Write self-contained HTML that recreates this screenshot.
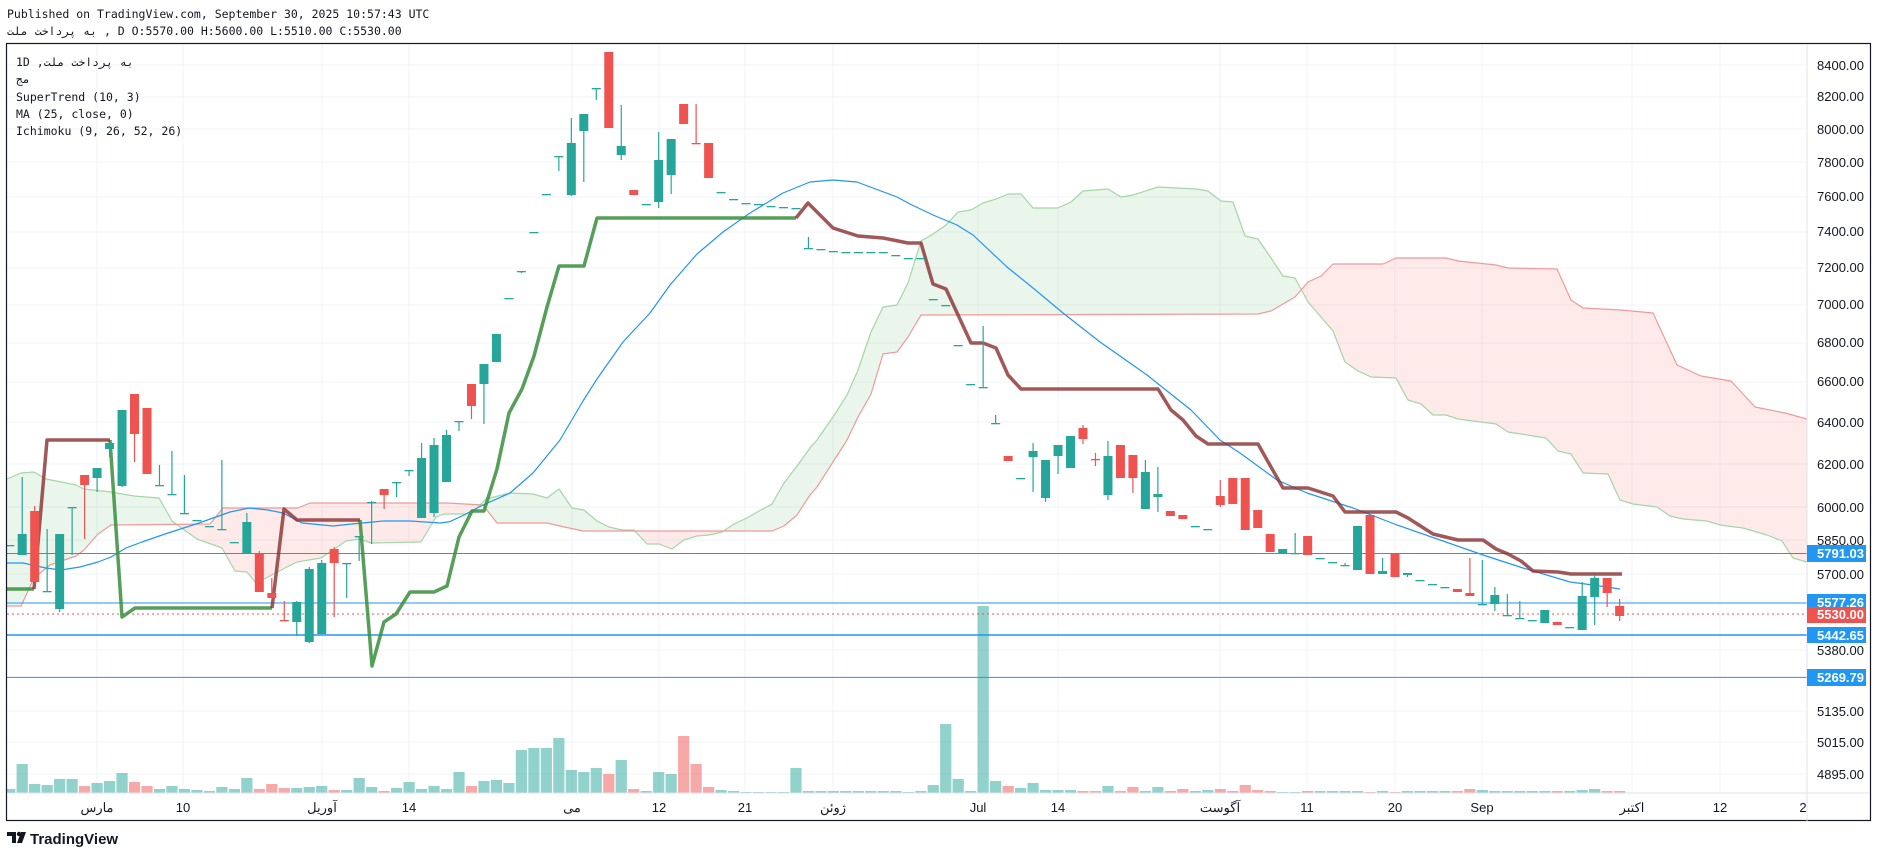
<!DOCTYPE html>
<html><head><meta charset="utf-8">
<style>
html,body{margin:0;padding:0;background:#fff;width:1878px;height:858px;overflow:hidden}
svg{display:block}
.ax{font-family:"Liberation Sans","Noto Sans CJK SC",sans-serif;font-size:13px;fill:#131722}
.mono{font-family:"DejaVu Sans Mono","Liberation Mono",monospace;font-size:11.5px;fill:#131722}
.lab{font-family:"Liberation Sans",sans-serif;font-size:13px;fill:#fff;font-weight:bold}
</style></head><body>
<svg id="s" width="1878" height="858" xmlns="http://www.w3.org/2000/svg">
<defs><clipPath id="cp"><rect x="7" y="44" width="1800" height="749"/></clipPath></defs>
<g id="grid" stroke="#f0f3fa" stroke-width="1"></g>
<g id="chart" clip-path="url(#cp)"></g>
<!-- frame -->
<rect x="6.5" y="43.5" width="1864" height="777" fill="none" stroke="#131722" stroke-width="1.2"/>
<line x1="1807" y1="44" x2="1807" y2="821" stroke="#e0e3eb"/>
<line x1="7" y1="793" x2="1870" y2="793" stroke="#e0e3eb"/>
<text class="mono" x="7" y="18">Published on TradingView.com, September 30, 2025 10:57:43 UTC</text>
<text class="mono" x="7" y="35"><tspan style="unicode-bidi:bidi-override;direction:ltr">تلم تخادرپ هب</tspan> , D O:5570.00 H:5600.00 L:5510.00 C:5530.00</text>
<text class="mono" x="16" y="66">1D ,<tspan style="unicode-bidi:bidi-override;direction:ltr">تلم تخادرپ هب</tspan></text>
<text class="mono" x="16" y="83">مج</text>
<text class="mono" x="16" y="101">SuperTrend (10, 3)</text>
<text class="mono" x="16" y="118">MA (25, close, 0)</text>
<text class="mono" x="16" y="135">Ichimoku (9, 26, 52, 26)</text>
<!-- price axis -->
<g class="ax">
<text x="1817" y="70">8400.00</text>
<text x="1817" y="101">8200.00</text>
<text x="1817" y="134">8000.00</text>
<text x="1817" y="167">7800.00</text>
<text x="1817" y="201">7600.00</text>
<text x="1817" y="236">7400.00</text>
<text x="1817" y="272">7200.00</text>
<text x="1817" y="309">7000.00</text>
<text x="1817" y="347">6800.00</text>
<text x="1817" y="386">6600.00</text>
<text x="1817" y="427">6400.00</text>
<text x="1817" y="469">6200.00</text>
<text x="1817" y="512">6000.00</text>
<text x="1817" y="545">5850.00</text>
<text x="1817" y="579">5700.00</text>
<text x="1817" y="655">5380.00</text>
<text x="1817" y="716">5135.00</text>
<text x="1817" y="747">5015.00</text>
<text x="1817" y="779">4895.00</text>
</g>
<g>
<rect x="1807" y="545" width="59" height="17" fill="#2196f3"/><text class="lab" x="1817" y="558">5791.03</text>
<rect x="1807" y="594" width="59" height="17" fill="#2196f3"/><text class="lab" x="1817" y="607">5577.26</text>
<rect x="1807" y="607" width="59" height="16" fill="#ef5350"/><text class="lab" x="1817" y="619">5530.00</text>
<rect x="1807" y="627" width="59" height="16" fill="#2196f3"/><text class="lab" x="1817" y="640">5442.65</text>
<rect x="1807" y="669" width="59" height="17" fill="#2196f3"/><text class="lab" x="1817" y="682">5269.79</text>
</g>
<!-- time axis -->
<g class="ax" text-anchor="middle">
<text x="97" y="812">مارس</text>
<text x="183" y="812">10</text>
<text x="322" y="812">آوریل</text>
<text x="409" y="812">14</text>
<text x="572" y="812">می</text>
<text x="659" y="812">12</text>
<text x="745" y="812">21</text>
<text x="833" y="812">ژوئن</text>
<text x="978" y="812">Jul</text>
<text x="1058" y="812">14</text>
<text x="1220" y="812">آگوست</text>
<text x="1307" y="812">11</text>
<text x="1395" y="812">20</text>
<text x="1482" y="812">Sep</text>
<text x="1632" y="812">اکتبر</text>
<text x="1720" y="812">12</text>
<text x="1803" y="812">2</text>
</g>
<!-- logo -->
<g transform="translate(7,830)">
<path d="M0 2h9v11H5V6H0z M10 13l4-11h5l-4 11z" fill="#131722"/>
<circle cx="12" cy="4" r="2.2" fill="#131722"/>
</g>
<text x="30" y="844" style="font-family:'Liberation Sans',sans-serif;font-size:15px;font-weight:bold;fill:#131722">TradingView</text>
</svg>
<script>
var NS="http://www.w3.org/2000/svg";
function el(p,t,a){var e=document.createElementNS(NS,t);for(var k in a)e.setAttribute(k,a[k]);p.appendChild(e);return e;}
var G=document.getElementById('grid'),C=document.getElementById('chart');
var hy=[65,97,129,162,197,232,268,305,343,382,422,464,507,540,574,650,711,742,774];
hy.forEach(function(y){el(G,'line',{x1:7,x2:1807,y1:y,y2:y});});
[97,183,322,409,572,659,745,833,978,1058,1220,1307,1395,1482,1632,1720,1807].forEach(function(x){el(G,'line',{x1:x,x2:x,y1:44,y2:793});});
function X(i){return 22.2+12.48*i;}
// cloud
var A=[[7,479],[21,473],[34,472],[46,479],[76,485],[84,489],[111,492],[134,496],[159,498],[172,521],[197,539],[222,548],[235,571],[247,572],[256,583],[272,575],[285,568],[297,562],[321,558],[346,541],[360,539],[371,543],[421,542],[436,517],[444,514],[471,514],[486,499],[510,493],[533,494],[547,498],[559,489],[572,508],[584,510],[597,521],[609,527],[622,530],[634,530],[647,544],[659,544],[672,549],[684,540],[697,536],[709,535],[722,532],[734,524],[747,518],[759,511],[772,504],[784,483],[797,466],[810,448],[817,440],[833,417],[847,395],[858,370],[871,332],[883,307],[897,305],[908,283],[921,241],[933,234],[946,225],[958,212],[971,210],[983,203],[996,199],[1008,194],[1021,194],[1033,208],[1058,208],[1071,202],[1083,191],[1108,189],[1121,197],[1133,195],[1158,187],[1196,189],[1208,191],[1221,201],[1233,202],[1245,236],[1258,239],[1271,258],[1283,276],[1295,278],[1308,302],[1321,317],[1333,331],[1345,362],[1358,371],[1371,377],[1396,378],[1408,400],[1421,404],[1433,415],[1446,415],[1458,419],[1496,424],[1508,432],[1521,434],[1546,438],[1558,451],[1571,454],[1583,473],[1608,474],[1620,500],[1633,504],[1657,507],[1670,516],[1683,519],[1707,521],[1720,525],[1743,528],[1767,535],[1782,541],[1793,558],[1807,562]];
var B=[[7,606],[21,606],[34,578],[50,565],[76,556],[84,550],[98,534],[111,525],[210,524],[223,508],[298,508],[310,503],[350,503],[447,503],[483,505],[497,523],[547,523],[560,526],[583,531],[772,531],[784,526],[797,515],[810,495],[817,487],[833,462],[847,440],[858,417],[871,394],[883,354],[897,352],[908,337],[921,315],[1258,314],[1271,311],[1283,304],[1295,297],[1308,282],[1321,276],[1333,264],[1383,264],[1396,258],[1446,258],[1458,261],[1496,265],[1508,268],[1557,269],[1571,300],[1583,308],[1620,310],[1653,313],[1677,365],[1701,376],[1731,381],[1755,407],[1785,413],[1807,419]];
function interp(P,x){for(var k=0;k<P.length-1;k++){if(x>=P[k][0]&&x<=P[k+1][0]){var t=(x-P[k][0])/(P[k+1][0]-P[k][0]||1);return P[k][1]+t*(P[k+1][1]-P[k][1]);}}return P[P.length-1][1];}
for(var x=7;x<1807;x+=1){var a0=interp(A,x),b0=interp(B,x),a1=interp(A,x+1),b1=interp(B,x+1);
 var col=((a0+a1)<(b0+b1))?'rgba(67,160,71,0.11)':'rgba(244,67,54,0.11)';
 el(C,'polygon',{points:x+','+a0+' '+(x+1)+','+a1+' '+(x+1)+','+b1+' '+x+','+b0,fill:col,stroke:'none'});}
function pl(P,c,w){el(C,'polyline',{points:P.map(function(p){return p.join(',')}).join(' '),fill:'none',stroke:c,'stroke-width':w,'stroke-linejoin':'round'});}
pl(A,'#a5d6a7',1.2);pl(B,'#ef9a9a',1.2);
// volume
var V=[[-1,789],[0,764],[1,784],[2,785],[3,779],[4,779],[5,786,'r'],[6,783],[7,781],[8,773],[9,782,'r'],[10,786,'r'],[11,789],[12,786],[13,789],[14,790],[15,791],[16,787],[17,789],[18,778],[19,789,'r'],[20,784,'r'],[21,788,'r'],[22,788],[23,787],[24,786],[25,790,'r'],[26,790],[27,778],[28,787],[29,791,'r'],[30,788],[31,782],[32,789],[33,786],[34,789],[35,772],[36,786,'r'],[37,781],[38,780],[39,783],[40,750],[41,748],[42,748],[43,738],[44,770],[45,772],[46,768],[47,774,'r'],[48,760],[49,789,'r'],[50,791],[51,772],[52,774],[53,736,'r'],[54,764,'r'],[55,787,'r'],[56,790],[57,791],[58,792],[59,792],[60,792],[61,792],[62,768],[63,791],[64,791],[65,791],[66,791],[67,791],[68,791],[69,791],[70,791],[71,792],[72,791],[73,785],[74,724],[75,779],[76,791],[77,606],[78,781],[79,786,'r'],[80,788],[81,783],[82,790],[83,790],[84,790],[85,791,'r'],[86,791,'r'],[87,786],[88,791,'r'],[89,787,'r'],[90,791],[91,787],[92,791,'r'],[93,789,'r'],[94,791],[95,790],[96,789,'r'],[97,791,'r'],[98,785,'r'],[99,790,'r'],[100,791,'r'],[101,792],[102,792],[103,791,'r'],[104,791],[105,791],[106,791],[107,791],[108,792,'r'],[109,791],[110,792,'r'],[111,791],[112,791],[113,791],[114,791],[115,791,'r'],[116,789,'r'],[117,790],[118,791],[119,791],[120,791],[121,791],[122,791],[123,791,'r'],[124,791],[125,790],[126,789],[127,791,'r'],[128,791,'r']];
V.forEach(function(v){el(C,'rect',{x:X(v[0])-5.6,y:v[1],width:11.2,height:793-v[1],fill:v[2]?'rgba(239,83,80,0.5)':'rgba(38,166,154,0.5)'});});
// horizontal lines
[[553.5,1],[603,1],[635,1.6],[677.4,1]].forEach(function(h){el(C,'line',{x1:7,x2:1807,y1:h[0],y2:h[0],stroke:'#2196f3','stroke-width':h[1]});});
el(C,'line',{x1:7,x2:1807,y1:614,y2:614,stroke:'#ef5350','stroke-width':1,'stroke-dasharray':'2 3'});
// MA
pl([[7,563],[23,563],[46,568],[61,570],[80,567],[98,562],[111,557],[126,548],[142,542],[165,534],[199,523],[230,512],[249,508],[268,510],[283,513],[302,523],[333,526],[352,524],[383,521],[410,521],[440,523],[450,521.6],[463,515.5],[483,505],[510,493],[533,473],[560,440],[583,401],[597,379],[623,342],[650,313],[670,285],[697,254],[723,232],[750,213],[783,193],[810,182],[833,180],[857,182],[897,197],[910,204],[933,215],[957,225],[973,235],[1007,267],[1033,288],[1063,313],[1100,342],[1147,375],[1157,383],[1191,410],[1220,440],[1240,453],[1277,480],[1307,493],[1353,508],[1397,525],[1483,555],[1523,568],[1570,582],[1593,585],[1620,589]],'#2196f3',1.2);
// SuperTrend
var g1=[[7,589],[34,589]],r1=[[34,589],[47,440],[110,440]],g2=[[110,440],[122,617],[135,608],[272,608]],r2=[[272,608],[284,509],[297,520],[360,520]],
g3=[[360,520],[372,666],[384,622],[396,614],[410,592],[434,592],[447,586],[459,537],[472,511],[484,511],[497,469],[509,413],[522,389],[534,356],[547,307],[559,266],[584,266],[597,218],[796,218]],
r3=[[796,218],[808,203],[833,228],[858,236],[883,238],[908,243],[921,243],[933,284],[946,289],[971,343],[983,343],[996,348],[1008,375],[1021,389],[1158,389],[1171,410],[1183,420],[1196,436],[1208,444],[1258,444],[1271,467],[1283,488],[1308,488],[1333,496],[1345,512],[1396,512],[1408,518],[1433,534],[1458,540],[1483,540],[1496,549],[1508,554],[1521,561],[1533,571],[1558,572],[1571,574],[1622,574]];
[g1,g2,g3].forEach(function(p){pl(p,'rgba(56,142,60,0.85)',3.5);});
[r1,r2,r3].forEach(function(p){pl(p,'rgba(136,46,46,0.8)',3.5);});
// candles [i,col,bt,bb,wt,wb]
var K=[[-1,'g',545],[0,'g',534,555,477,555],[1,'r',511,582,506,582],[2,'g',591,591,529,591],[3,'g',534,609,534,612],[4,'g',507,507,507,555],[5,'r',475,485,475,539],[6,'g',468,478,468,492],[7,'g',443,449,443,457],[8,'g',410,486,410,487],[9,'r',394,434,394,462],[10,'r',408,474],[11,'g',485,485,465,485],[12,'g',494,494,451,494],[13,'g',513,513,475,513],[14,'g',520],[15,'g',526],[16,'g',529,529,460,529],[17,'g',542],[18,'g',522,554,513,554],[19,'r',553,592,551,592],[20,'r',593,598,578,598],[21,'r',620,620,601,620],[22,'g',602,622,601,636],[23,'g',569,642,567,643],[24,'g',563,634,560,634],[25,'r',549,563,547,617],[26,'g',563,563,563,598],[27,'g',536,536,536,561],[28,'g',502,502,501,544],[29,'r',489,495,489,509],[30,'g',482,482,482,497],[31,'g',470,470,470,476],[32,'g',458,518,443,518],[33,'g',445,513,438,517],[34,'g',435,482,430,482],[35,'g',421,421,421,431],[36,'r',384,406,384,419],[37,'g',364,384,364,424],[38,'g',334,362],[39,'g',298],[40,'g',271,271,271,273],[41,'g',232],[42,'g',194],[43,'g',156,156,156,171],[44,'g',143,195,118,196],[45,'g',114,131,114,182],[46,'g',88,88,88,100],[47,'r',52,128],[48,'g',146,155,105,160],[49,'r',190,195],[50,'g',204],[51,'g',160,202,132,208],[52,'g',139,175,139,194],[53,'r',104,124],[54,'r',143,143,104,143],[55,'r',143,178],[56,'g',192],[57,'g',199],[58,'g',203],[59,'g',204],[60,'g',206],[61,'g',207],[62,'g',208],[63,'g',248,248,237,248],[64,'g',249],[65,'g',251],[66,'g',252],[67,'g',252],[68,'g',252],[69,'g',252],[70,'g',255],[71,'g',258],[72,'g',258],[73,'g',299],[74,'g',305],[75,'g',345],[76,'g',384],[77,'g',387,387,326,387],[78,'g',423,423,415,423],[79,'r',456,461],[80,'g',478],[81,'g',451,457,443,492],[82,'g',460,498,460,502],[83,'g',445,456,445,474],[84,'g',436,468],[85,'r',428,439,425,444],[86,'r',459,459,453,466],[87,'g',456,495,441,500],[88,'r',445,478],[89,'r',455,478,455,493],[90,'g',472,509,460,509],[91,'g',494,497,467,512],[92,'r',511,516],[93,'r',515,519],[94,'g',526],[95,'g',529],[96,'r',496,505,480,507],[97,'r',478,504],[98,'r',478,530],[99,'r',510,528],[100,'r',534,552],[101,'g',549,554],[102,'g',553,553,533,553],[103,'r',536,555],[104,'g',558],[105,'g',562],[106,'g',565,565,563,565],[107,'g',526,570],[108,'r',515,574],[109,'g',571,574,558,574],[110,'r',554,577],[111,'g',573,575,573,577],[112,'g',580],[113,'g',584],[114,'g',587],[115,'r',589,592],[116,'r',593,596,558,596],[117,'g',604,604,560,604],[118,'g',595,604,587,611],[119,'g',615,615,594,615],[120,'g',618,618,601,618],[121,'g',620],[122,'g',610,623],[123,'r',622,625],[124,'g',627],[125,'g',596,630,582,630],[126,'g',578,597,575,625],[127,'r',578,593,578,607],[128,'r',606,616,599,621]];
K.forEach(function(k){var x=X(k[0]),c=k[1]=='g'?'#26a69a':'#ef5350';var bt=k[2],bb=k.length>3?k[3]:bt,wt=k.length>4?k[4]:bt,wb=k.length>5?k[5]:bb;
 if(wt<bt||wb>bb)el(C,'line',{x1:x,x2:x,y1:wt,y2:wb,stroke:c,'stroke-width':1.2});
 el(C,'rect',{x:x-4.5,y:bt,width:9,height:Math.max(bb-bt,1.3),fill:c});});
</script>
</body></html>
